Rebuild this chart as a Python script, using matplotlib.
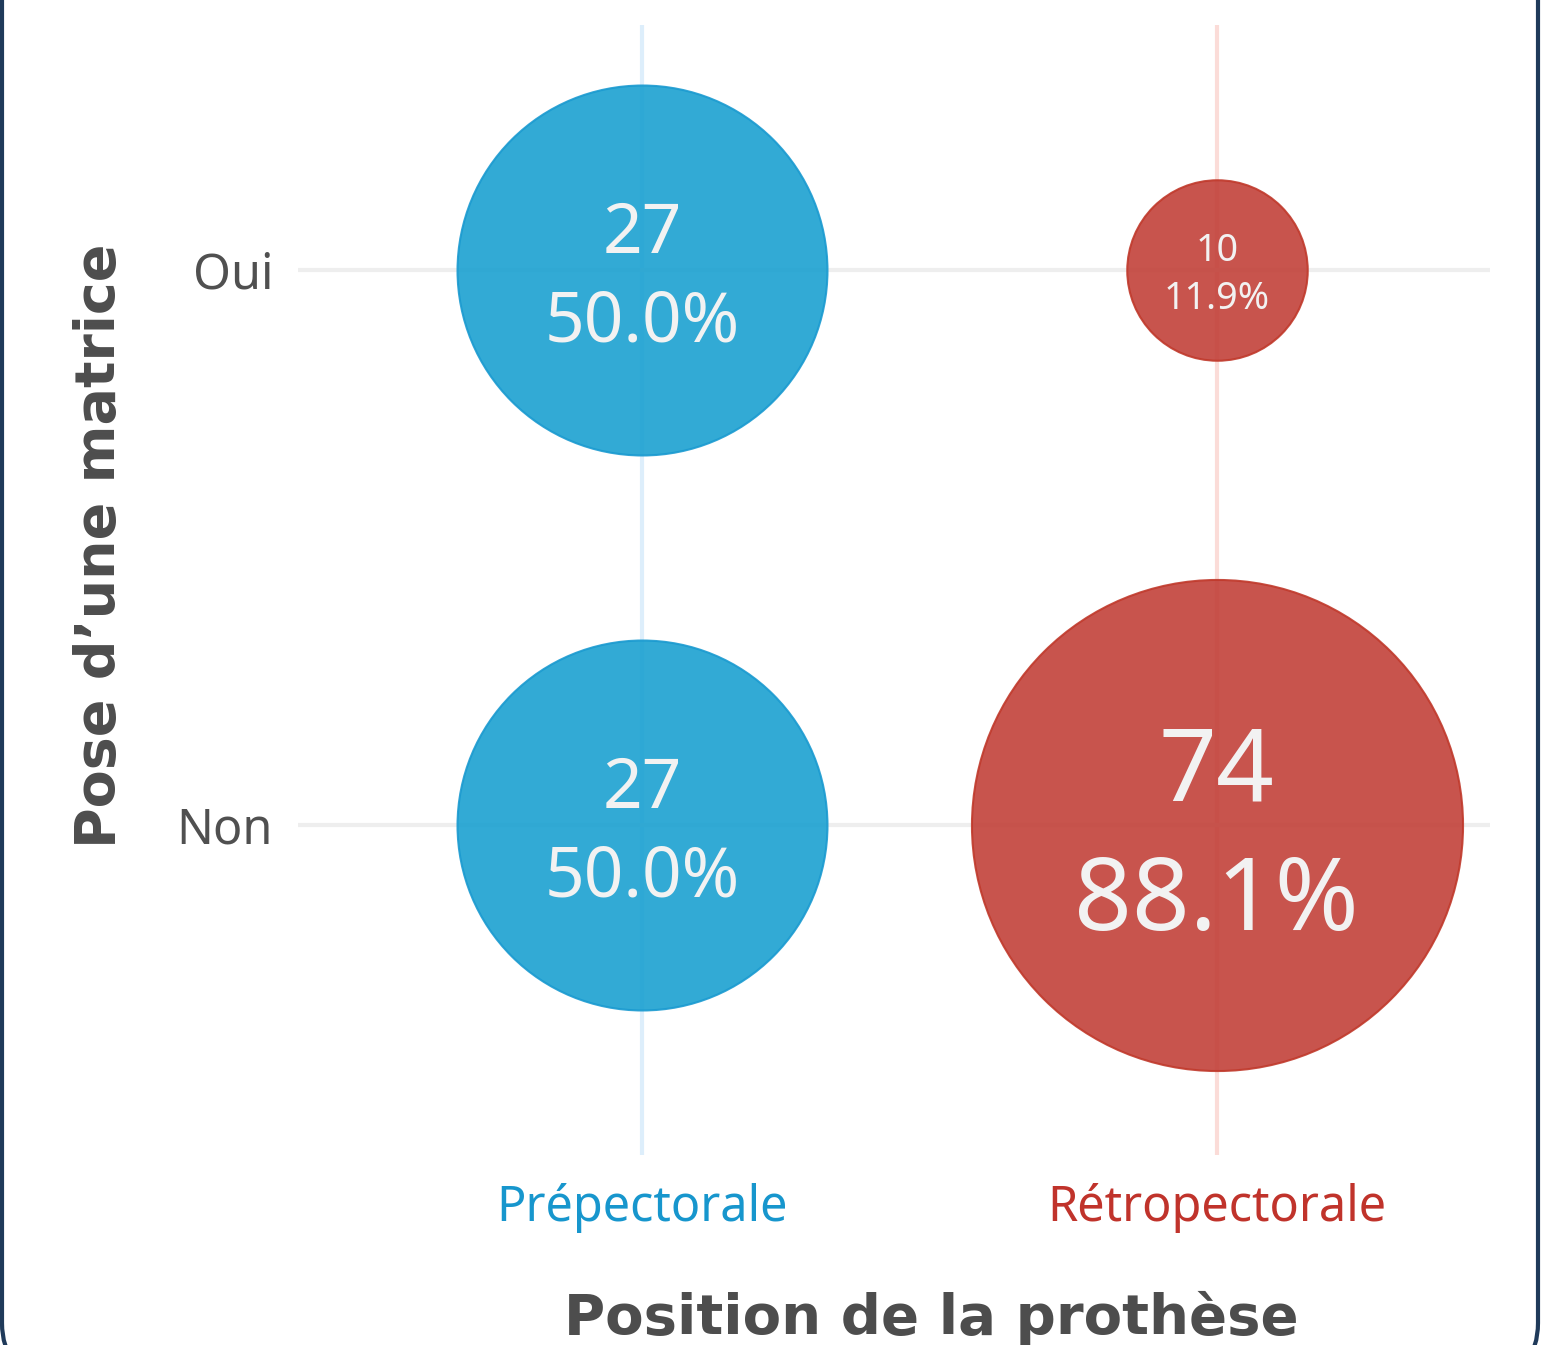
import matplotlib.pyplot as plt
from matplotlib.patches import FancyBboxPatch

# data
positions = ['Prépectorale', 'Rétropectorale']
matrice = ['Non', 'Oui']  # bottom to top
pos_col = ['Prépectorale', 'Prépectorale', 'Rétropectorale', 'Rétropectorale']
mat_row = ['Oui', 'Non', 'Oui', 'Non']
counts = [27, 27, 10, 74]
pcts = [50.0, 50.0, 11.9, 88.1]

pos_colors = {'Prépectorale': '#1ba1d1', 'Rétropectorale': '#c24139'}
pos_edges = {'Prépectorale': '#1a9ad0', 'Rétropectorale': '#c0392b'}
pos_tick = {'Prépectorale': '#1796cd', 'Rétropectorale': '#c0332b'}
pos_grid = {'Prépectorale': '#ddeefb', 'Rétropectorale': '#fbdcd8'}

fig = plt.figure(figsize=(15.45, 13.45), dpi=100)
ax = fig.add_axes([298/1545, 190/1345, 1192/1545, 1130/1345])

xs = [positions.index(p) for p in pos_col]
ys = [matrice.index(m) for m in mat_row]

# grid lines
for i, p in enumerate(positions):
    ax.axvline(i, color=pos_grid[p], lw=3, zorder=0)
for j in range(len(matrice)):
    ax.axhline(j, color='#eeeeee', lw=3, zorder=0)

for x, y, c, pc, p in zip(xs, ys, counts, pcts, pos_col):
    ax.scatter(x, y, s=pc * 1419, color=pos_colors[p], alpha=0.9,
               edgecolors=pos_edges[p], linewidths=1.5, zorder=2)
    fs = 20 + 0.6 * pc
    ax.annotate(str(c), (x, y), xytext=(0, 0.5 * fs), textcoords='offset points',
                ha='center', va='center', fontsize=fs, color='#f2f2f2',
                family='Noto Sans', zorder=3)
    ax.annotate('%.1f%%' % pc, (x, y), xytext=(0, -0.78 * fs), textcoords='offset points',
                ha='center', va='center', fontsize=fs, color='#f2f2f2',
                family='Noto Sans', zorder=3)

ax.set_xlim(-0.598, 1.475)
ax.set_ylim(-0.595, 1.441)
ax.set_xticks(range(len(positions)))
ax.set_xticklabels(positions, fontsize=35, family='Noto Sans')
for lab, p in zip(ax.get_xticklabels(), positions):
    lab.set_color(pos_tick[p])
ax.set_yticks(range(len(matrice)))
ax.set_yticklabels(matrice, fontsize=35, family='Noto Sans', color='#505050')
ax.tick_params(length=0)
ax.tick_params(axis='x', pad=20)
ax.tick_params(axis='y', pad=18)
for s in ax.spines.values():
    s.set_visible(False)

fig.text(931/1545, 1 - 1318/1345, 'Position de la prothèse', ha='center', va='center',
         fontsize=40.5, fontweight='bold', color='#4d4d4d', family='DejaVu Sans')
fig.text(100/1545, 1 - 546/1345, "Pose d\u2019une matrice", ha='center', va='center',
         rotation=90, fontsize=40, fontweight='bold', color='#4d4d4d', family='DejaVu Sans')

# frame
frame = FancyBboxPatch((2, -28), 1536, 1500, boxstyle='round,pad=0,rounding_size=50',
                       transform=None, fill=False, edgecolor='#1f3a5a', lw=3)
fig.add_artist(frame)

fig.savefig('out.png', dpi=100)
